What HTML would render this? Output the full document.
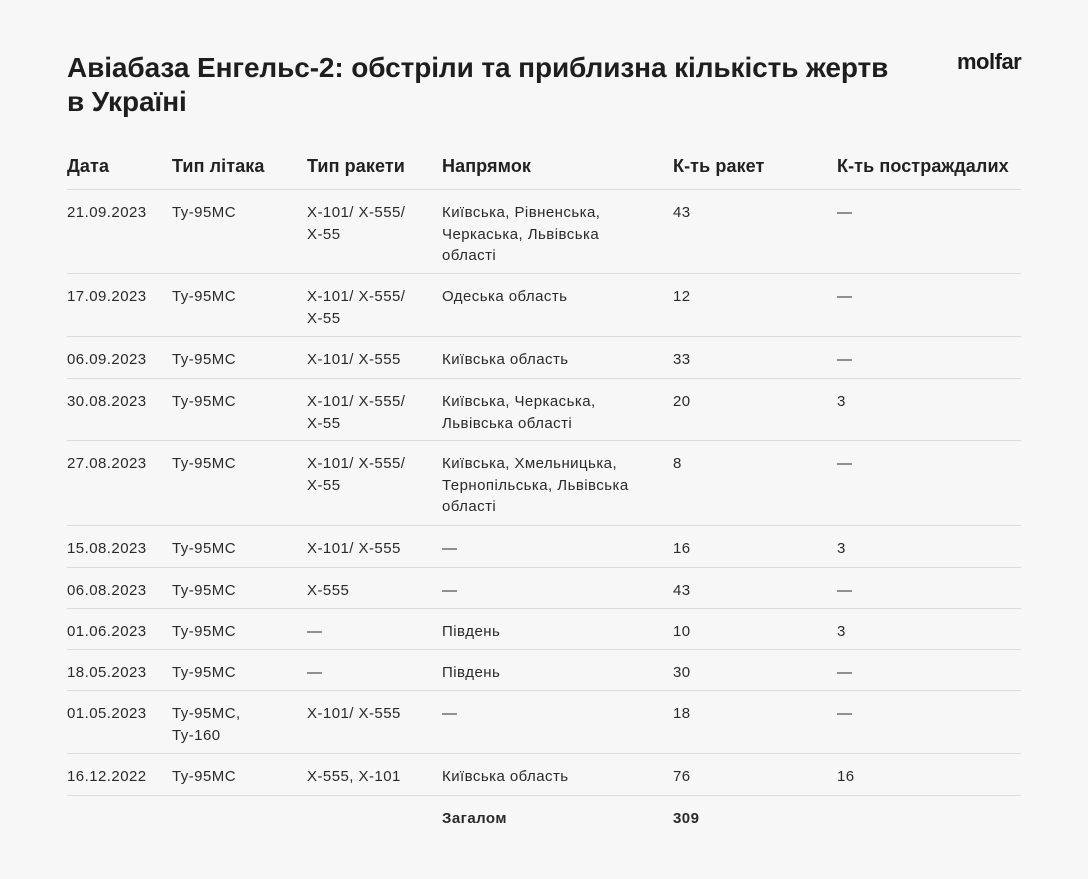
<!DOCTYPE html>
<html><head><meta charset="utf-8"><style>
body{margin:0;width:1088px;height:879px;background:#f7f7f7;font-family:"Liberation Sans","DejaVu Sans",sans-serif;color:#222;position:relative;overflow:hidden}
.t{position:absolute;left:67px;top:51px;font-size:28px;font-weight:bold;line-height:34px;color:#1e1e1e;letter-spacing:-0.1px}
.logo{position:absolute;left:957px;top:49px;font-size:22px;font-weight:bold;color:#1a1a1a;letter-spacing:-0.5px}
.r{position:absolute;left:67px;width:954px;border-bottom:1px solid #dcdcdc;box-sizing:border-box}
.c{position:absolute;top:12px;font-size:15px;line-height:21.5px;color:#2a2a2a;letter-spacing:0.45px;white-space:nowrap}
.hd .c{font-size:18px;top:6px;font-weight:bold;letter-spacing:0.1px;color:#222}
.c1{left:0}.c2{left:105px}.c3{left:240px}.c4{left:375px}.c5{left:606px}.c6{left:770px}
</style></head><body>
<div class="t">Авіабаза Енгельс-2: обстріли та приблизна кількість жертв<br>в Україні</div>
<div class="logo">molfar</div>
<div class="r hd" style="top:150px;height:40px"><div class="c c1">Дата</div><div class="c c2">Тип літака</div><div class="c c3">Тип ракети</div><div class="c c4">Напрямок</div><div class="c c5">К-ть ракет</div><div class="c c6">К-ть постраждалих</div></div>
<div class="r" style="top:190px;height:84px"><div class="c c1">21.09.2023</div><div class="c c2">Ту-95МС</div><div class="c c3">Х-101/ Х-555/<br>Х-55</div><div class="c c4">Київська, Рівненська,<br>Черкаська, Львівська<br>області</div><div class="c c5">43</div><div class="c c6">—</div></div>
<div class="r" style="top:274px;height:63px"><div class="c c1">17.09.2023</div><div class="c c2">Ту-95МС</div><div class="c c3">Х-101/ Х-555/<br>Х-55</div><div class="c c4">Одеська область</div><div class="c c5">12</div><div class="c c6">—</div></div>
<div class="r" style="top:337px;height:42px"><div class="c c1">06.09.2023</div><div class="c c2">Ту-95МС</div><div class="c c3">Х-101/ Х-555</div><div class="c c4">Київська область</div><div class="c c5">33</div><div class="c c6">—</div></div>
<div class="r" style="top:379px;height:62px"><div class="c c1">30.08.2023</div><div class="c c2">Ту-95МС</div><div class="c c3">Х-101/ Х-555/<br>Х-55</div><div class="c c4">Київська, Черкаська,<br>Львівська області</div><div class="c c5">20</div><div class="c c6">3</div></div>
<div class="r" style="top:441px;height:85px"><div class="c c1">27.08.2023</div><div class="c c2">Ту-95МС</div><div class="c c3">Х-101/ Х-555/<br>Х-55</div><div class="c c4">Київська, Хмельницька,<br>Тернопільська, Львівська<br>області</div><div class="c c5">8</div><div class="c c6">—</div></div>
<div class="r" style="top:526px;height:42px"><div class="c c1">15.08.2023</div><div class="c c2">Ту-95МС</div><div class="c c3">Х-101/ Х-555</div><div class="c c4">—</div><div class="c c5">16</div><div class="c c6">3</div></div>
<div class="r" style="top:568px;height:41px"><div class="c c1">06.08.2023</div><div class="c c2">Ту-95МС</div><div class="c c3">Х-555</div><div class="c c4">—</div><div class="c c5">43</div><div class="c c6">—</div></div>
<div class="r" style="top:609px;height:41px"><div class="c c1">01.06.2023</div><div class="c c2">Ту-95МС</div><div class="c c3">—</div><div class="c c4">Південь</div><div class="c c5">10</div><div class="c c6">3</div></div>
<div class="r" style="top:650px;height:41px"><div class="c c1">18.05.2023</div><div class="c c2">Ту-95МС</div><div class="c c3">—</div><div class="c c4">Південь</div><div class="c c5">30</div><div class="c c6">—</div></div>
<div class="r" style="top:691px;height:63px"><div class="c c1">01.05.2023</div><div class="c c2">Ту-95МС,<br>Ту-160</div><div class="c c3">Х-101/ Х-555</div><div class="c c4">—</div><div class="c c5">18</div><div class="c c6">—</div></div>
<div class="r" style="top:754px;height:42px"><div class="c c1">16.12.2022</div><div class="c c2">Ту-95МС</div><div class="c c3">Х-555, Х-101</div><div class="c c4">Київська область</div><div class="c c5">76</div><div class="c c6">16</div></div>
<div class="r" style="top:796px;height:42px;border:none"><div class="c c4" style="font-weight:bold">Загалом</div><div class="c c5" style="font-weight:bold">309</div></div>
</body></html>
